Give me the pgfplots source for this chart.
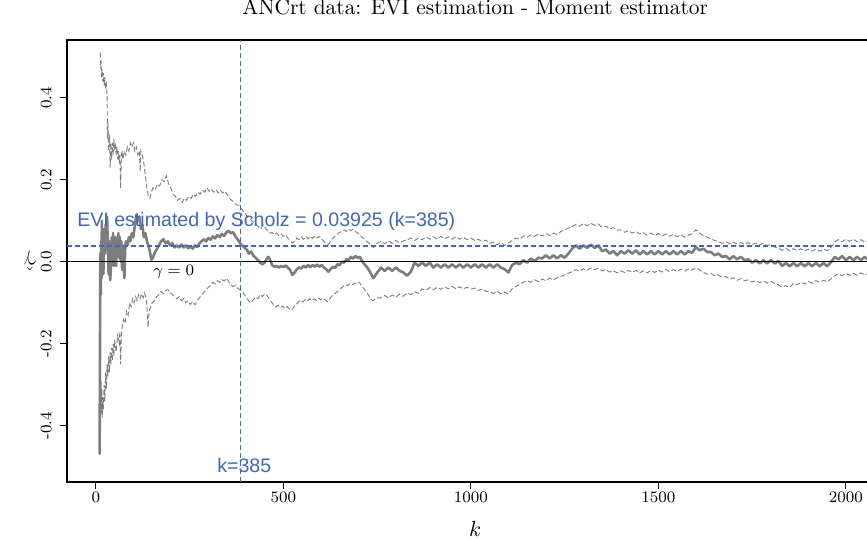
\documentclass[border=0pt]{standalone}
\usepackage{fontspec}
\usepackage{pgfplots}
\pgfplotsset{compat=1.18}
\usepackage{pgfplotstable}
\newfontfamily\arialfont{Liberation Sans}
\definecolor{evblue}{RGB}{66,103,185}
\definecolor{estgray}{RGB}{125,125,125}

\pgfplotstableread{
k g
10 -0.47
11 -0.20
12 0.02
13 -0.08
14 0.05
15 -0.04
16 0.10
17 -0.02
18 0.06
20 -0.03
22 0.08
24 0.02
26 0.09
28 0.04
30 0.11
32 0.03
34 -0.03
36 0.05
38 -0.045
40 -0.02
42 0.06
44 0.01
46 0.07
48 -0.01
50 0.04
52 0.06
54 -0.01
56 0.05
58 0.02
60 0.07
62 0.01
64 0.06
66 0.00
68 0.05
70 -0.02
72 0.04
74 0.03
76 -0.04
78 0.03
80 0.05
84 0.04
88 0.06
92 0.05
96 0.07
100 0.06
104 0.09
108 0.115
112 0.10
116 0.11
120 0.08
124 0.09
128 0.06
132 0.07
136 0.05
140 0.04
144 0.025
148 0.005
152 0.01
156 0.02
162 0.03
168 0.04
174 0.05
180 0.055
186 0.045
192 0.05
198 0.04
204 0.045
210 0.035
216 0.04
222 0.035
228 0.042
234 0.035
240 0.04
246 0.033
252 0.038
258 0.032
264 0.04
270 0.036
276 0.045
282 0.05
288 0.055
294 0.05
300 0.058
306 0.054
312 0.062
318 0.057
324 0.065
330 0.06
336 0.068
342 0.063
348 0.072
354 0.075
360 0.07
366 0.072
372 0.062
378 0.055
384 0.046
390 0.04
396 0.035
402 0.03
408 0.02
414 0.025
420 0.015
426 0.01
432 0.004
438 -0.002
444 -0.006
450 -0.002
456 0.008
460 0.012
464 0.006
470 -0.008
476 -0.012
482 -0.01
488 -0.014
494 -0.01
500 -0.013
506 -0.009
512 -0.014
518 -0.02
524 -0.032
530 -0.026
536 -0.018
542 -0.014
548 -0.016
554 -0.01
560 -0.014
566 -0.008
572 -0.013
578 -0.008
584 -0.012
590 -0.007
596 -0.012
602 -0.008
608 -0.014
614 -0.018
620 -0.024
626 -0.018
632 -0.012
638 -0.015
644 -0.006
650 -0.008
656 0.0
662 -0.002
668 0.006
674 0.004
680 0.012
686 0.008
692 0.014
698 0.01
704 0.012
710 0.002
716 -0.006
722 -0.012
728 -0.02
734 -0.03
740 -0.04
746 -0.032
752 -0.024
756 -0.02
760 -0.014
770 -0.022
780 -0.014
790 -0.022
800 -0.014
810 -0.022
820 -0.026
830 -0.034
840 -0.024
850 -0.002
860 -0.010
870 -0.002
880 -0.010
890 -0.002
900 -0.014
910 -0.006
920 -0.014
930 -0.006
940 -0.014
950 -0.006
960 -0.014
970 -0.006
980 -0.014
990 -0.006
1000 -0.014
1010 -0.006
1020 -0.014
1030 -0.006
1040 -0.014
1050 -0.006
1060 -0.014
1070 -0.006
1080 -0.014
1090 -0.018
1100 -0.026
1110 -0.008
1120 -0.002
1130 -0.006
1140 0.004
1150 -0.002
1160 0.008
1170 0.002
1180 0.010
1190 0.008
1200 0.016
1210 0.008
1220 0.016
1230 0.008
1240 0.016
1250 0.010
1260 0.020
1270 0.032
1280 0.040
1290 0.032
1300 0.040
1310 0.034
1320 0.042
1330 0.034
1340 0.040
1350 0.026
1360 0.030
1370 0.020
1380 0.026
1390 0.016
1400 0.026
1410 0.020
1420 0.028
1430 0.020
1440 0.028
1450 0.018
1460 0.026
1470 0.018
1480 0.026
1490 0.018
1500 0.026
1510 0.018
1520 0.026
1530 0.018
1540 0.026
1550 0.018
1560 0.026
1570 0.018
1580 0.026
1590 0.022
1600 0.036
1610 0.028
1620 0.032
1630 0.024
1640 0.024
1650 0.016
1660 0.020
1670 0.012
1680 0.014
1690 0.006
1700 0.014
1710 0.006
1720 0.012
1730 0.004
1740 0.006
1750 -0.002
1760 0.004
1770 -0.004
1780 0.004
1790 -0.004
1800 0.004
1810 -0.004
1820 0.002
1830 -0.010
1840 -0.003
1850 -0.011
1860 -0.003
1870 -0.011
1880 -0.003
1890 -0.011
1900 -0.003
1910 -0.011
1920 -0.003
1930 -0.011
1940 -0.003
1950 -0.011
1960 -0.001
1970 0.012
1980 0.006
1990 0.014
2000 0.004
2010 0.012
2020 0.004
2030 0.012
2040 0.004
2050 0.012
2060 0.004
2070 0.012
2080 0.004
2090 0.010
2100 0.004
}\est

\pgfplotstableread{
k g
12 0.51
13 0.47
14 0.49
15 0.45
16 0.47
18 0.44
20 0.46
22 0.43
24 0.45
26 0.42
28 0.44
30 0.40
31 0.30
32 0.34
34 0.27
36 0.31
38 0.23
40 0.29
42 0.25
44 0.29
46 0.26
48 0.30
50 0.27
52 0.29
54 0.26
56 0.28
58 0.25
60 0.27
62 0.24
64 0.26
66 0.18
68 0.26
70 0.27
72 0.25
76 0.27
80 0.26
84 0.28
88 0.27
92 0.29
96 0.28
100 0.29
104 0.27
108 0.28
112 0.26
116 0.27
118 0.22
120 0.27
124 0.26
128 0.24
132 0.21
136 0.18
140 0.16
144 0.155
148 0.17
152 0.18
158 0.175
164 0.19
170 0.185
176 0.2
182 0.195
188 0.21
194 0.19
200 0.18
206 0.165
212 0.16
218 0.15
224 0.155
230 0.145
236 0.155
242 0.15
248 0.16
254 0.155
260 0.165
266 0.16
272 0.17
278 0.165
284 0.175
290 0.17
296 0.18
302 0.172
308 0.178
314 0.17
320 0.176
326 0.168
332 0.175
338 0.168
344 0.172
350 0.165
356 0.155
362 0.15
368 0.145
374 0.14
380 0.138
386 0.132
392 0.125
398 0.118
404 0.11
410 0.105
416 0.1
422 0.095
428 0.09
434 0.085
440 0.08
446 0.09
452 0.082
458 0.075
464 0.07
470 0.072
476 0.066
482 0.07
488 0.064
494 0.068
500 0.062
506 0.066
512 0.058
518 0.052
524 0.046
530 0.05
536 0.058
542 0.054
548 0.06
554 0.055
560 0.062
566 0.056
572 0.062
578 0.057
584 0.063
590 0.058
596 0.062
602 0.055
608 0.05
614 0.045
620 0.042
626 0.05
632 0.058
638 0.063
644 0.068
650 0.072
656 0.074
662 0.078
668 0.074
674 0.08
680 0.076
686 0.079
692 0.074
698 0.07
704 0.066
710 0.06
716 0.055
722 0.05
728 0.046
734 0.04
740 0.035
746 0.042
752 0.046
760 0.050
770 0.044
780 0.051
790 0.045
800 0.052
810 0.046
820 0.051
830 0.053
840 0.058
850 0.052
860 0.058
870 0.054
880 0.061
890 0.055
900 0.061
910 0.055
920 0.062
930 0.056
940 0.061
950 0.055
960 0.061
970 0.055
980 0.060
990 0.054
1000 0.058
1010 0.052
1020 0.055
1030 0.049
1040 0.053
1050 0.045
1060 0.048
1070 0.041
1080 0.047
1090 0.040
1100 0.046
1110 0.052
1120 0.058
1130 0.055
1140 0.063
1150 0.060
1160 0.066
1170 0.062
1180 0.068
1190 0.063
1200 0.069
1210 0.064
1220 0.070
1230 0.066
1240 0.074
1250 0.078
1260 0.082
1270 0.086
1280 0.091
1290 0.087
1300 0.093
1310 0.088
1320 0.094
1330 0.089
1340 0.092
1350 0.084
1360 0.087
1370 0.080
1380 0.083
1390 0.077
1400 0.078
1410 0.072
1420 0.076
1430 0.070
1440 0.074
1450 0.068
1460 0.071
1470 0.065
1480 0.070
1490 0.064
1500 0.069
1510 0.063
1520 0.068
1530 0.062
1540 0.067
1550 0.061
1560 0.066
1570 0.060
1580 0.065
1590 0.068
1600 0.078
1610 0.070
1620 0.064
1630 0.060
1640 0.056
1650 0.052
1660 0.049
1670 0.045
1680 0.049
1690 0.044
1700 0.048
1710 0.043
1720 0.047
1730 0.042
1740 0.047
1750 0.042
1760 0.046
1770 0.041
1780 0.045
1790 0.040
1800 0.042
1810 0.036
1820 0.033
1830 0.028
1840 0.033
1850 0.027
1860 0.032
1870 0.027
1880 0.032
1890 0.026
1900 0.031
1910 0.026
1920 0.031
1930 0.026
1940 0.031
1950 0.027
1960 0.035
1970 0.048
1980 0.054
1990 0.049
2000 0.055
2010 0.050
2020 0.055
2030 0.049
2040 0.054
2050 0.048
2060 0.053
2070 0.047
2080 0.052
2090 0.047
2100 0.051
}\up

\pgfplotstableread{
k g
12 -0.30
13 -0.34
14 -0.29
15 -0.37
16 -0.31
17 -0.38
18 -0.33
20 -0.36
22 -0.30
24 -0.34
26 -0.27
28 -0.31
30 -0.25
32 -0.28
34 -0.23
36 -0.27
38 -0.22
40 -0.25
42 -0.21
44 -0.24
46 -0.20
48 -0.23
50 -0.19
54 -0.22
58 -0.18
62 -0.20
64 -0.17
66 -0.25
68 -0.18
70 -0.16
74 -0.14
78 -0.15
82 -0.12
86 -0.13
90 -0.10
94 -0.11
98 -0.09
102 -0.10
106 -0.085
110 -0.095
114 -0.08
118 -0.09
122 -0.078
126 -0.088
130 -0.076
134 -0.09
137 -0.12
139 -0.16
142 -0.12
146 -0.11
150 -0.10
156 -0.095
162 -0.085
168 -0.08
174 -0.072
180 -0.078
186 -0.07
192 -0.068
198 -0.075
204 -0.08
210 -0.085
216 -0.09
222 -0.085
228 -0.095
234 -0.09
240 -0.1
246 -0.095
252 -0.104
258 -0.097
264 -0.105
270 -0.095
276 -0.088
282 -0.08
288 -0.075
294 -0.068
300 -0.062
306 -0.057
312 -0.05
318 -0.054
324 -0.046
330 -0.05
336 -0.043
342 -0.047
348 -0.04
354 -0.048
360 -0.056
366 -0.06
372 -0.058
378 -0.064
384 -0.068
390 -0.072
396 -0.08
402 -0.088
408 -0.096
414 -0.1
420 -0.092
426 -0.086
432 -0.09
438 -0.08
444 -0.085
450 -0.078
456 -0.082
462 -0.09
468 -0.098
474 -0.105
480 -0.11
486 -0.106
492 -0.112
498 -0.108
504 -0.114
510 -0.109
516 -0.115
522 -0.118
528 -0.11
534 -0.104
540 -0.098
546 -0.094
552 -0.098
558 -0.092
564 -0.096
570 -0.09
576 -0.095
582 -0.09
588 -0.094
594 -0.089
600 -0.093
606 -0.088
612 -0.094
618 -0.097
624 -0.09
630 -0.083
636 -0.078
642 -0.074
648 -0.07
654 -0.064
660 -0.06
666 -0.056
672 -0.058
678 -0.053
684 -0.056
690 -0.052
696 -0.055
702 -0.05
708 -0.057
714 -0.065
720 -0.072
726 -0.08
732 -0.088
738 -0.095
744 -0.092
750 -0.088
760 -0.088
770 -0.082
780 -0.088
790 -0.081
800 -0.086
810 -0.079
820 -0.084
830 -0.076
840 -0.080
850 -0.073
860 -0.077
870 -0.066
880 -0.070
890 -0.063
900 -0.068
910 -0.062
920 -0.067
930 -0.061
940 -0.066
950 -0.060
960 -0.066
970 -0.061
980 -0.066
990 -0.062
1000 -0.067
1010 -0.064
1020 -0.070
1030 -0.066
1040 -0.072
1050 -0.072
1060 -0.077
1070 -0.072
1080 -0.078
1090 -0.074
1100 -0.079
1110 -0.066
1120 -0.060
1130 -0.055
1140 -0.050
1150 -0.046
1160 -0.050
1170 -0.044
1180 -0.048
1190 -0.042
1200 -0.046
1210 -0.040
1220 -0.044
1230 -0.039
1240 -0.036
1250 -0.032
1260 -0.028
1270 -0.024
1280 -0.019
1290 -0.023
1300 -0.017
1310 -0.021
1320 -0.015
1330 -0.019
1340 -0.016
1350 -0.022
1360 -0.019
1370 -0.025
1380 -0.022
1390 -0.027
1400 -0.022
1410 -0.026
1420 -0.021
1430 -0.026
1440 -0.021
1450 -0.027
1460 -0.022
1470 -0.027
1480 -0.021
1490 -0.026
1500 -0.020
1510 -0.025
1520 -0.019
1530 -0.024
1540 -0.019
1550 -0.024
1560 -0.018
1570 -0.023
1580 -0.018
1590 -0.020
1600 -0.014
1610 -0.020
1620 -0.026
1630 -0.030
1640 -0.028
1650 -0.034
1660 -0.032
1670 -0.038
1680 -0.036
1690 -0.042
1700 -0.039
1710 -0.045
1720 -0.041
1730 -0.046
1740 -0.044
1750 -0.049
1760 -0.046
1770 -0.051
1780 -0.047
1790 -0.052
1800 -0.048
1810 -0.053
1820 -0.056
1830 -0.062
1840 -0.058
1850 -0.063
1860 -0.052
1870 -0.056
1880 -0.050
1890 -0.054
1900 -0.048
1910 -0.052
1920 -0.046
1930 -0.050
1940 -0.045
1950 -0.049
1960 -0.042
1970 -0.034
1980 -0.029
1990 -0.034
2000 -0.028
2010 -0.033
2020 -0.028
2030 -0.033
2040 -0.027
2050 -0.032
2060 -0.028
2070 -0.033
2080 -0.028
2090 -0.032
2100 -0.028
}\lo

\begin{document}
\begin{tikzpicture}
\begin{axis}[
  at={(33.5pt,28.5pt)}, anchor=south west,
  scale only axis, width=408.2pt, height=221pt,
  xmin=-77, xmax=2100, ymin=-0.537, ymax=0.541,
  axis line style={line width=0.7pt},
  no markers,
  tick align=outside, major tick length=3.5pt,
  every tick/.style={black, line width=0.5pt},
  xtick={0,500,1000,1500,2000}, ytick={-0.4,-0.2,0,0.2,0.4},
  xtick pos=bottom, ytick pos=left,
  minor tick num=0,
  scaled ticks=false,
  /pgf/number format/assume math mode=true,
  /pgf/number format/1000 sep={},
  yticklabel={\pgfmathprintnumber[fixed,fixed zerofill,precision=1]{\tick}},
  xticklabel style={font=\fontsize{8}{9.6}\selectfont, anchor=north, inner sep=0pt, yshift=-1pt},
  yticklabel style={font=\fontsize{8}{9.6}\selectfont, xshift=-4pt, rotate=90, anchor=south, inner sep=0pt},
  title={ANCrt data: EVI estimation - Moment estimator},
  title style={font=\fontsize{10.7}{13}\selectfont, at={(axis description cs:0.5,1.0294)}, anchor=base, inner sep=0pt},
  xlabel={$k$},
  xlabel style={font=\fontsize{11}{13}\selectfont, at={(axis description cs:0.5,-0.1244)}, anchor=base, inner sep=0pt},
  ylabel={$\hat{\gamma}$},
  ylabel style={font=\fontsize{11}{13}\selectfont, at={(axis description cs:-0.0453,0.5)}, anchor=center, rotate=90, inner sep=0pt},
]
\addplot[estgray, line width=1.3pt, line join=round] table[x=k,y=g] {\est};
\addplot[estgray, line width=0.45pt, dash pattern=on 2.5pt off 1.2pt] table[x=k,y=g] {\up};
\addplot[estgray, line width=0.45pt, dash pattern=on 2.5pt off 1.2pt] table[x=k,y=g] {\lo};
\addplot[black, line width=0.55pt] coordinates {(-77,0) (2100,0)};
\addplot[evblue, line width=0.8pt, dash pattern=on 2.5pt off 1.5pt] coordinates {(-77,0.03925) (2100,0.03925)};
\addplot[evblue, line width=0.7pt, dash pattern=on 2.5pt off 1.5pt] coordinates {(385,-0.537) (385,0.541)};
\node[anchor=base west, inner sep=0pt, text=evblue, font=\arialfont\fontsize{9.8}{12}\selectfont] at (axis cs:-50.7,0.0854) {EVI estimated by Scholz = 0.03925 (k=385)};
\node[anchor=base west, inner sep=0pt, text=evblue, font=\arialfont\fontsize{9.8}{12}\selectfont] at (axis cs:322.7,-0.5146) {k=385};
\node[anchor=base west, inner sep=0pt, font=\fontsize{8}{9.6}\selectfont] at (axis cs:152,-0.034) {$\gamma=0$};
\end{axis}
\pgfresetboundingbox
\useasboundingbox (0,0) rectangle (433.5pt,269.5pt);
\end{tikzpicture}
\end{document}
